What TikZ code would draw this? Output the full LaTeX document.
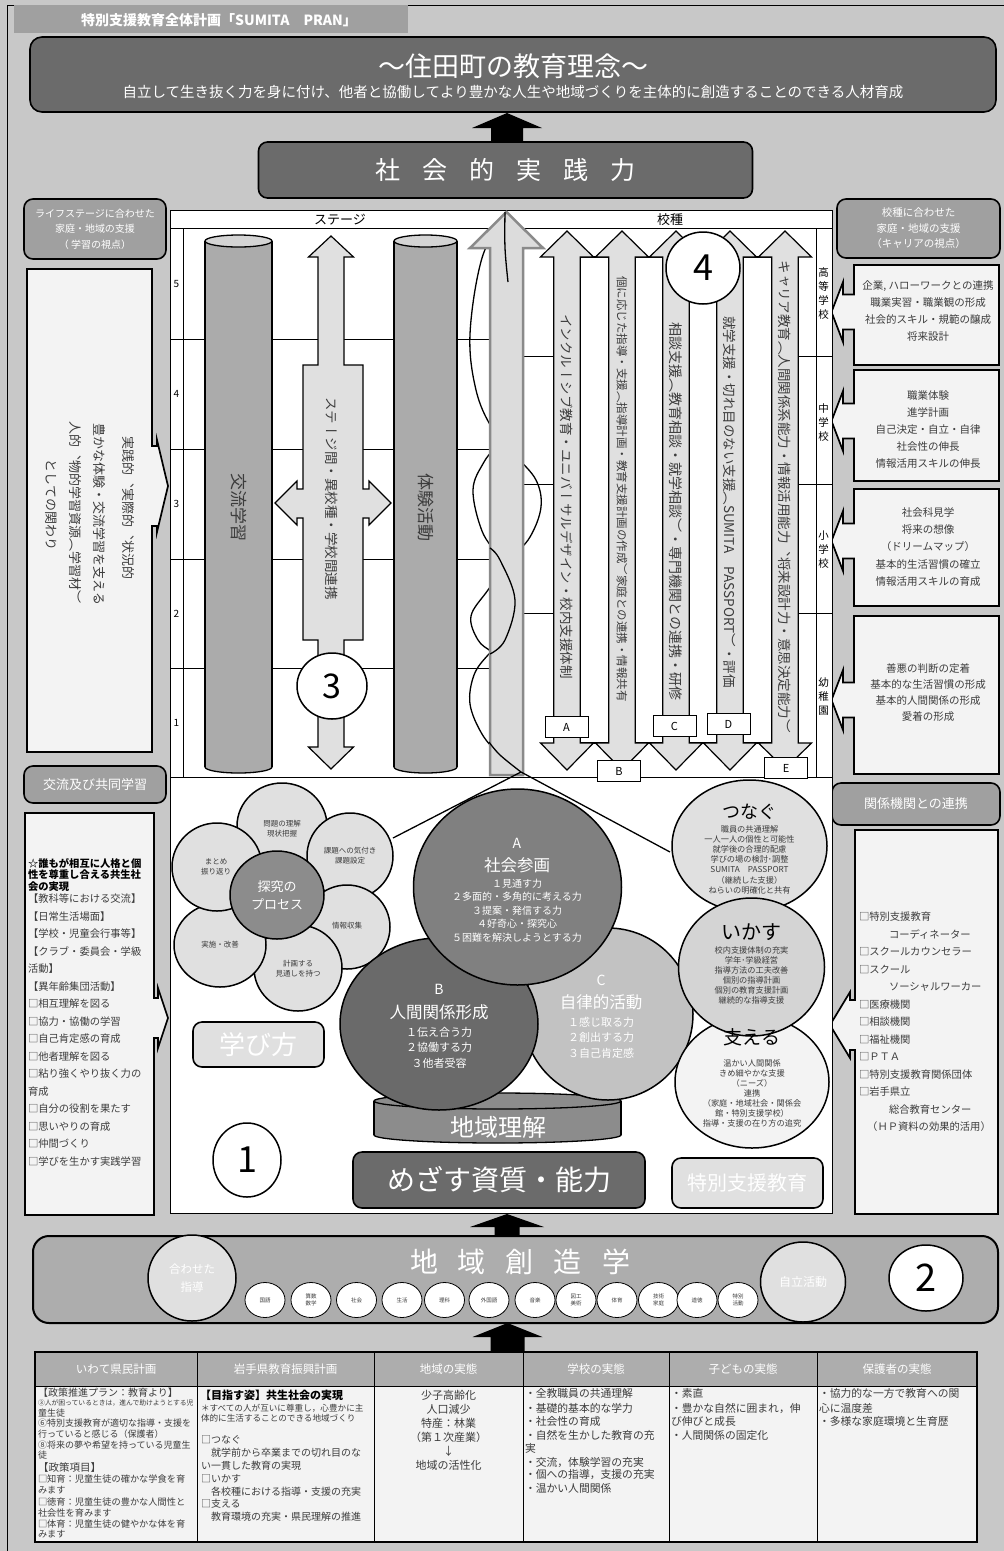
\documentclass[tikz,border=0pt]{standalone}
\usepackage{fontspec}
\setmainfont{Noto Sans CJK JP}
\newfontfamily\vjp[Vertical=RotatedGlyphs]{Noto Sans CJK JP}
\usetikzlibrary{shapes.geometric}
\definecolor{bgc}{HTML}{C8C8C8}
\definecolor{dk}{HTML}{6B6B6B}
\definecolor{md}{HTML}{A0A0A0}
\definecolor{lt}{HTML}{E0E0E0}
\definecolor{pale}{HTML}{F3F3F3}
\definecolor{txt}{HTML}{3C3C3C}
\definecolor{cyl}{HTML}{ABABAB}
\definecolor{cyltop}{HTML}{D4D4D4}
\definecolor{arrg}{HTML}{DCDCDC}
\definecolor{arre}{HTML}{8A8A8A}
\definecolor{cA}{HTML}{808080}
\definecolor{cB}{HTML}{6A6A6A}
\definecolor{cC}{HTML}{C2C2C2}
\definecolor{hdr}{HTML}{ADADAD}
\definecolor{band}{HTML}{ADADAD}
\definecolor{chi}{HTML}{8C8C8C}
\newcommand\fsz[2]{\fontsize{#1}{#2}\selectfont}
\newcommand\blkup[6]{\fill[black] (#1,#2) -- (#1+#5,#3) -- (#1+#6,#3) -- (#1+#6,#4) -- (#1-#6,#4) -- (#1-#6,#3) -- (#1-#5,#3) -- cycle;}
\newcommand\callL[9]{\draw[callbox] (#1,#2) -- (#3,#2) -- (#3,#4) -- (#1,#4) -- (#1,#5+#8) -- (#6,#5+#8) -- (#6,#5+#9) -- (#7,#5) -- (#6,#5-#9) -- (#6,#5-#8) -- (#1,#5-#8) -- cycle;}
\newcommand\callR[9]{\draw[callbox] (#1,#2) -- (#3,#2) -- (#3,#5-#8) -- (#6,#5-#8) -- (#6,#5-#9) -- (#7,#5) -- (#6,#5+#9) -- (#6,#5+#8) -- (#3,#5+#8) -- (#3,#4) -- (#1,#4) -- cycle;}
\newcommand\dblar[2]{\draw[garrow] (#1,231) -- (#1+26.5,257) -- (#1+13.3,257) -- (#1+13.3,743) -- (#1+26.5,743) -- (#1,#2) -- (#1-26.5,743) -- (#1-13.3,743) -- (#1-13.3,257) -- (#1-26.5,257) -- cycle;}
\newcommand\cylinder[6]{%
 \draw[line width=1.3pt, fill=#6] ({(#1+#2)/2},#4) ellipse [x radius={(#2-#1)/2}, y radius=#5];
 \fill[#6] (#1,#3) rectangle (#2,#4);
 \draw[line width=1.3pt] (#1,#3) -- (#1,#4) (#2,#3) -- (#2,#4);}
\begin{document}
\begin{tikzpicture}[x=1pt,y=-1pt,
  every node/.style={inner sep=0pt,outer sep=0pt},
  rbox/.style={draw=black,line width=1.6pt,rounded corners=9pt},
  callbox/.style={draw=black,line width=1.7pt,fill=pale,line join=miter},
  garrow/.style={draw=black,line width=1.2pt,fill=lt},
  circ/.style={ellipse,draw=black,line width=1.5pt},
  vt/.style={rotate=-90,anchor=west,text=txt,font={\vjp\fsz{#1}{#1}}},
  gt/.style={text=txt,font={\fsz{#1}{#1}}},
  wt/.style={text=white,font={\fsz{#1}{#1}}},
  helix/.style={line width=1.3pt,black},
]
% ---------- background ----------
\fill[bgc] (0,0) rectangle (1004,1551);
\useasboundingbox (0,0) rectangle (1004,1551);
\draw[line width=1.4pt] (7.5,1551) -- (7.5,5.5) -- (1004,5.5);
\node[fill=md,minimum width=394,minimum height=28] (lab) at (211,19) {};
\node[text=white,font={\bfseries\fsz{14}{14}}] (labt) at (219,20) {特別支援教育全体計画「SUMITA\quad PRAN」};
% ---------- top ----------
\node[rbox,fill=dk,minimum width=966,minimum height=75,rounded corners=12pt] (ideal) at (513,74.5) {};
\node[wt=27] (idealt) at (513,66) {～住田町の教育理念～};
\node[wt=14.5] (ideals) at (513,92) {自立して生き抜く力を身に付け、他者と協働してより豊かな人生や地域づくりを主体的に創造することのできる人材育成};
\blkup{507}{113}{128}{143}{35}{16}
\node[rbox,fill=dk,minimum width=494,minimum height=56] (spr) at (505.5,170) {};
\node[wt=25] (sprt) at (505.5,170) {社\hspace{22pt}会\hspace{22pt}的\hspace{22pt}実\hspace{22pt}践\hspace{22pt}力};
% ---------- side headers ----------
\node[rbox,fill=md,minimum width=142,minimum height=60] (lhead) at (95,229) {};
\node[text=white,align=center,font={\fsz{10}{15.5}}] (lheadt) at (lhead) {ライフステージに合わせた\\家庭・地域の支援\\（ 学習の視点）};
\node[rbox,fill=md,minimum width=163,minimum height=59] (rhead) at (918.5,228.5) {};
\node[text=white,align=center,font={\fsz{10.5}{15.5}}] (rheadt) at (rhead) {校種に合わせた\\家庭・地域の支援\\（キャリアの視点）};
% left box 1
\callR{27}{269}{152}{752}{486}{157}{168}{40}{46}
\node[vt=13] (lv1) at (128,436) {実践的、実際的、状況的};
\node[vt=13] (lv2) at (99,423) {豊かな体験・交流学習を支える};
\node[vt=13] (lv3) at (75,421) {人的、物的学習資源（学習材）};
\node[vt=13] (lv4) at (51,459) {としての関わり};
% left box 2
\node[rbox,fill=md,minimum width=142,minimum height=37] (lhead2) at (95,784.5) {};
\node[wt=13] (lhead2t) at (lhead2) {交流及び共同学習};
\callR{25}{813}{154}{1215}{1018}{158}{168}{20}{30}
\foreach \yy/\tt [count=\i] in {863/{☆誰もが相互に人格と個},875/{性を尊重し合える共生社},887/{会の実現}}
  \node[anchor=west,text=black,font={\bfseries\fsz{10.3}{10.3}}] (lb\i) at (28,\yy) {\tt};
\foreach \yy/\tt [count=\i] in {899/{【教科等における交流】},916.5/{【日常生活場面】},934/{【学校・児童会行事等】},951.5/{【クラブ・委員会・学級},969/{活動】},986.5/{【異年齢集団活動】},1004/{□相互理解を図る},1021.5/{□協力・協働の学習},1039/{□自己肯定感の育成},1056.5/{□他者理解を図る},1074/{□粘り強くやり抜く力の},1091.5/{育成},1109/{□自分の役割を果たす},1126.5/{□思いやりの育成},1144/{□仲間づくり},1161.5/{□学びを生かす実践学習}}
  \node[anchor=west,gt=10.3] (lc\i) at (28,\yy) {\tt};
% right boxes
\callL{854}{265}{999}{365}{312}{843}{831.5}{17.5}{30}
\callL{854}{370}{999}{481}{421}{843}{831.5}{17.5}{30}
\callL{854}{489}{999}{606}{541}{843}{831.5}{17.5}{30}
\callL{854}{616}{999}{774}{700}{843}{831.5}{17.5}{30}
\node[text=txt,align=center,font={\fsz{10.5}{16.7}}] (rb1) at (928,311) {企業, ハローワークとの連携\\職業実習・職業観の形成\\社会的スキル・規範の醸成\\将来設計};
\node[text=txt,align=center,font={\fsz{10.5}{16.8}}] (rb2) at (928,429.5) {職業体験\\進学計画\\自己決定・自立・自律\\社会性の伸長\\情報活用スキルの伸長};
\node[text=txt,align=center,font={\fsz{10.5}{17.2}}] (rb3) at (928,547) {社会科見学\\将来の想像\\（ドリームマップ）\\基本的生活習慣の確立\\情報活用スキルの育成};
\node[text=txt,align=center,font={\fsz{10.5}{16.3}}] (rb4) at (928,692.5) {善悪の判断の定着\\基本的な生活習慣の形成\\基本的人間関係の形成\\愛着の形成};
\node[rbox,fill=md,minimum width=168,minimum height=42] (rhead2) at (916,804) {};
\node[wt=13] (rhead2t) at (rhead2) {関係機関との連携};
\callL{855}{830}{998}{1214}{1025}{850}{830}{25}{33}
\foreach \yy/\tt [count=\i] in {917/{□特別支援教育},934.5/{\hspace{30pt}コーディネーター},952/{□スクールカウンセラー},969.5/{□スクール},987/{\hspace{30pt}ソーシャルワーカー},1004.5/{□医療機関},1022/{□相談機関},1039.5/{□福祉機関},1057/{□ＰＴＡ},1074.5/{□特別支援教育関係団体},1092/{□岩手県立},1109.5/{\hspace{30pt}総合教育センター}}
  \node[anchor=west,gt=10.3] (rc\i) at (859,\yy) {\tt};
\node[gt=10.3] (rc13) at (929,1127) {（ＨＰ資料の効果的活用）};
% ---------- central panel ----------
\node[draw=black,line width=1pt,fill=white,minimum width=662,minimum height=1003] (panel) at (501,711.5) {};
\draw[line width=0.8pt] (170,228.5) -- (832,228.5) (170,777) -- (832,777) (183,228.5) -- (183,777) (816,228.5) -- (816,777);
\foreach \yy in {339,449,559,668} \draw[line width=0.8pt] (170,\yy) -- (490,\yy);
\foreach \yy in {356,484,613} \draw[line width=0.8pt] (523,\yy) -- (832,\yy);
\node[text=black,font={\fsz{13}{13}}] (hst) at (340,219.5) {ステージ};
\node[text=black,font={\fsz{13}{13}}] (hsc) at (670,219.5) {校種};
\foreach \yy/\nn in {284/5,394/4,504/3,614/2,723/1}
  \node[text=black,font={\fsz{10}{10}}] (num\nn) at (176.5,\yy) {\nn};
\foreach \yy/\tt [count=\i] in {294/{高\\等\\学\\校},423/{中\\学\\校},550/{小\\学\\校},697/{幼\\稚\\園}}
  \node[text=black,align=center,font={\fsz{10.5}{14}}] (sch\i) at (823.5,\yy) {\tt};
% cylinders
\cylinder{205}{272}{241}{767}{6}{cyl}
\node[circ,fill=cyltop,minimum width=67,minimum height=12,line width=1.3pt] (cy1t) at (238.5,241) {};
\node[vt=17] (cy1) at (238.5,473) {交流学習};
\cylinder{394}{457}{241}{767}{6}{cyl}
\node[circ,fill=cyltop,minimum width=63,minimum height=12,line width=1.3pt] (cy2t) at (425.5,241) {};
\node[vt=17] (cy2) at (425.5,473) {体験活動};
% stage arrow
\draw[garrow] (331,236) -- (353.5,257) -- (344,257) -- (344,365) -- (363,365) -- (363,489) -- (369,489) -- (369,481) -- (391,503) -- (369,525) -- (369,518) -- (363,518) -- (363,640) -- (344,640) -- (344,747) -- (353.5,747) -- (331,769) -- (308.5,747) -- (318,747) -- (318,640) -- (303,640) -- (303,518) -- (297,518) -- (297,525) -- (275,503) -- (297,481) -- (297,489) -- (303,489) -- (303,365) -- (318,365) -- (318,257) -- (308.5,257) -- cycle;
\node[vt=13.5] (stg) at (332,397) {ステージ間・異校種・学校間連携};
\node[circ,fill=white,minimum width=70,minimum height=66] (c3) at (332,686) {};
\node[text=black,font={\fsz{34}{34}}] (c3t) at (c3) {3};
% helix (behind the arrow)
\coordinate (htop) at (506,212);
\coordinate (hbot) at (521,772);
\draw[helix] plot[smooth,tension=0.6] coordinates {(506,212) (482,258) (470,334) (476,390) (492,428) (515,455) (536,480) (541,507) (530,537) (510,560) (488,590) (471,616) (478,640) (492,652) (510,665) (518,700) (515,740) (521,772)};
\draw[helix] plot[smooth,tension=0.6] coordinates {(506,212) (516,260) (520,330) (515,400) (502,437) (484,462) (473,490) (482,531) (500,560) (515,600) (505,640) (488,655) (474,675) (470,704) (482,734) (500,755) (521,772)};
% big arrow
\draw[draw=arre,line width=2.5pt,fill=arrg] (506.5,212) -- (543,248) -- (523,248) -- (523,775) -- (490,775) -- (490,248) -- (470,248) -- cycle;
% helix (in front of the arrow)
\draw[helix] plot[smooth,tension=0.6] coordinates {(505,212) (505,248) (508,282)};
\draw[helix] plot[smooth,tension=0.6] coordinates {(490,548) (500,560) (515,600) (505,640) (490,654)};
\draw[helix] plot[smooth,tension=0.6] coordinates {(489,742) (500,755) (521,772)};
% school-type arrows
\foreach \xa/\xb in {580.3/608.7,635.3/662.7,689.3/716.7,743.3/771.7}
  \draw[line width=1.2pt,fill=white] (\xa,257) rectangle (\xb,743);
\dblar{567}{770}
\dblar{622}{770}
\dblar{676}{770}
\dblar{730}{770}
\dblar{785}{769}
\node[vt=13.5] (arA) at (567,314) {インクルーシブ教育・ユニバーサルデザイン・校内支援体制};
\node[vt=11.5] (arB) at (622,276) {個に応じた指導・支援（指導計画・教育支援計画の作成）家庭との連携・情報共有};
\node[vt=14] (arC) at (676,322) {相談支援（教育相談・就学相談）・専門機関との連携・研修};
\node[vt=13.5] (arD) at (730,316) {就学支援・切れ目のない支援（SUMITA　PASSPORT）・評価};
\node[vt=13.5] (arE) at (785,260) {キャリア教育（人間関係系能力・情報活用能力、将来設計力・意思決定能力）};
\foreach \cx/\cy/\ll in {566.5/727/A,619/771/B,674.5/726/C,728.5/724/D,786/768/E}
  \node[draw=black,line width=1pt,fill=white,minimum width=43,minimum height=21,text=black,font={\fsz{11}{11}}] (lab\ll) at (\cx,\cy) {\ll};
\node[circ,fill=white,minimum width=74,minimum height=72] (c4) at (703,268) {};
\node[text=black,font={\fsz{36}{36}}] (c4t) at (c4) {4};
% ---------- lower panel ----------
\node[circ,fill=lt,minimum width=90,minimum height=86] (p1) at (282,826) {};
\node[circ,fill=lt,minimum width=86,minimum height=86] (p2) at (350,856) {};
\node[circ,fill=lt,minimum width=86,minimum height=84] (p3) at (347,927) {};
\node[circ,fill=lt,minimum width=88,minimum height=86] (p4) at (298,968) {};
\node[circ,fill=lt,minimum width=92,minimum height=84] (p5) at (220,945) {};
\node[circ,fill=lt,minimum width=90,minimum height=88] (p6) at (217,867) {};
\node[circ,fill=chi,minimum width=94,minimum height=88] (p0) at (277,895) {};
\node[text=txt,align=center,font={\fsz{7.5}{10}}] (p1t) at (282,829) {問題の理解\\現状把握};
\node[text=txt,align=center,font={\fsz{7.5}{10}}] (p2t) at (350,856) {課題への気付き\\課題設定};
\node[text=txt,align=center,font={\fsz{7.5}{10}}] (p3t) at (347,926) {情報収集};
\node[text=txt,align=center,font={\fsz{7.5}{10}}] (p4t) at (298,969) {計画する\\見通しを持つ};
\node[text=txt,align=center,font={\fsz{7.5}{10}}] (p5t) at (220,945) {実施・改善};
\node[text=txt,align=center,font={\fsz{7.5}{10}}] (p6t) at (216,867) {まとめ\\振り返り};
\node[text=white,align=center,font={\fsz{13}{18}}] (p0t) at (p0) {探究の\\プロセス};
\node[rbox,fill=lt,minimum width=131,minimum height=45] (manabi) at (258.5,1044.5) {};
\node[wt=26] (manabit) at (manabi) {学び方};
% region cylinder
\cylinder{374}{621}{1101}{1135}{8}{chi}
\node[circ,fill=chi,minimum width=247,minimum height=16,line width=1.3pt] (regt) at (497.5,1101) {};
% beams
\coordinate (beamL) at (393,838);
\coordinate (beamR) at (670,852);
\draw[helix] (hbot) -- (beamL);
\draw[helix] (hbot) -- (beamR);
% ABC
\node[circ,fill=cC,minimum width=170,minimum height=172] (cirC) at (608,1014) {};
\node[circ,fill=cB,minimum width=198,minimum height=172] (cirB) at (439,1024) {};
\node[circ,fill=cA,minimum width=208,minimum height=196] (cirA) at (517.5,887) {};
\node[wt=24] (regtxt) at (498,1127) {地域理解};
\node[wt=14] (tA1) at (517,843) {A};
\node[wt=16.5] (tA2) at (517,865) {社会参画};
\node[text=white,align=center,font={\fsz{10}{13.5}}] (tA3) at (517,910.5) {１見通す力\\２多面的・多角的に考える力\\３提案・発信する力\\４好奇心・探究心\\５困難を解決しようとする力};
\node[wt=14] (tB1) at (439,989) {B};
\node[wt=16.5] (tB2) at (439,1012) {人間関係形成};
\node[text=white,align=center,font={\fsz{11}{15.5}}] (tB3) at (439,1047.5) {１伝え合う力\\２協働する力\\３他者受容};
\node[wt=14] (tC1) at (601,980) {C};
\node[wt=16.5] (tC2) at (601,1002) {自律的活動};
\node[text=white,align=center,font={\fsz{11}{15.5}}] (tC3) at (601,1037.5) {１感じ取る力\\２創出する力\\３自己肯定感};
% right circles
\node[circ,fill=lt,minimum width=155,minimum height=132] (tsu) at (749.5,846) {};
\node[circ,fill=pale,minimum width=154,minimum height=132] (sas) at (752,1082) {};
\node[circ,fill=cyltop,minimum width=146,minimum height=138] (ika) at (751.5,967) {};
\node[text=black,font={\fsz{18}{18}}] (tsut) at (749.5,812) {つなぐ};
\node[text=txt,align=center,font={\fsz{8.2}{10.2}}] (tsub) at (749.5,859.5) {職員の共通理解\\一人一人の個性と可能性\\就学後の合理的配慮\\学びの場の検討･調整\\SUMITA　PASSPORT\\（継続した支援）\\ねらいの明確化と共有};
\node[text=black,font={\fsz{20}{20}}] (ikat) at (751.5,932) {いかす};
\node[text=txt,align=center,font={\fsz{8.2}{10}}] (ikab) at (751.5,975) {校内支援体制の充実\\学年･学級経営\\指導方法の工夫改善\\個別の指導計画\\個別の教育支援計画\\継続的な指導支援};
\node[text=black,font={\fsz{19}{19}}] (sast) at (752,1037) {支える};
\node[text=txt,align=center,font={\fsz{8.2}{10}}] (sasb) at (752,1093) {温かい人間関係\\きめ細やかな支援\\（ニーズ）\\連携\\（家庭・地域社会・関係会\\館・特別支援学校）\\指導・支援の在り方の追究};
\node[rbox,fill=lt,minimum width=151,minimum height=50] (tokub) at (747.5,1183) {};
\node[wt=20] (tokubt) at (tokub) {特別支援教育};
\node[rbox,fill=dk,minimum width=292,minimum height=56] (mez) at (499,1180) {};
\node[wt=28] (mezt) at (mez) {めざす資質・能力};
\node[circ,fill=white,minimum width=68,minimum height=74] (c1) at (247,1160) {};
\node[text=black,font={\fsz{36}{36}}] (c1t) at (c1) {1};
% ---------- band ----------
\blkup{507}{1214}{1227}{1237}{37}{12.5}
\node[rbox,fill=band,line width=2pt,rounded corners=16pt,minimum width=965,minimum height=87] (bandn) at (515.5,1279.5) {};
\node[wt=28] (bandt) at (520,1262) {地\hspace{20pt}域\hspace{20pt}創\hspace{20pt}造\hspace{20pt}学};
\node[circ,fill=lt,minimum width=88,minimum height=86] (awa) at (192,1278) {};
\node[text=white,align=center,font={\fsz{11.5}{18}}] (awat) at (awa) {合わせた\\指導};
\foreach \xx/\tt [count=\i] in {265/{国語},311/{算数\\数学},356.5/{社会},402/{生活},444.5/{理科},489/{外国語},535/{音楽},576/{図工\\美術},617/{体育},658.5/{技術\\家庭},697/{道徳},738/{特別\\活動}}{
  \node[ellipse,draw=black,line width=0.8pt,fill=white,minimum width=40,minimum height=35] (sub\i) at (\xx,1300) {};
  \node[text=txt,align=center,font={\fsz{5.5}{7.5}}] (subt\i) at (sub\i) {\tt};}
\node[circ,fill=lt,minimum width=85,minimum height=80] (jir) at (803,1282) {};
\node[wt=12] (jirt) at (jir) {自立活動};
\node[circ,fill=white,minimum width=74,minimum height=66] (c2) at (926,1278) {};
\node[text=black,font={\fsz{38}{38}}] (c2t) at (c2) {2};
\blkup{507.5}{1323}{1337}{1352}{35}{17}
% ---------- table ----------
\fill[hdr] (35,1352) rectangle (977,1386);
\fill[pale] (35,1386) rectangle (977,1542);
\draw[line width=1.2pt] (35,1352) rectangle (977,1542);
\draw[line width=1pt] (35,1386) -- (977,1386);
\foreach \xx in {197,374,523,669,817} \draw[line width=1pt] (\xx,1352) -- (\xx,1542);
\foreach \xx/\tt [count=\i] in {116/{いわて県民計画},285.5/{岩手県教育振興計画},448.5/{地域の実態},596/{学校の実態},743/{子どもの実態},897/{保護者の実態}}
  \node[wt=11.5] (th\i) at (\xx,1369) {\tt};
\node[anchor=west,gt=10] (ta1) at (38,1393) {【政策推進プラン：教育より】};
\node[anchor=west,gt=6.8] (ta2) at (38,1403) {③人が困っているときは，進んで助けようとする児};
\foreach \yy/\tt [count=\i] in {1413.5/{童生徒},1423.5/{⑥特別支援教育が適切な指導・支援を},1434.5/{行っていると感じる（保護者）},1445.5/{⑧将来の夢や希望を持っている児童生},1455.5/{徒}}
  \node[anchor=west,gt=9] (tb\i) at (38,\yy) {\tt};
\node[anchor=west,gt=10.5] (ta3) at (38,1467) {【政策項目】};
\foreach \yy/\tt [count=\i] in {1479/{□知育：児童生徒の確かな学食を育},1490/{みます},1502/{□徳育：児童生徒の豊かな人間性と},1512.5/{社会性を育みます},1523.5/{□体育：児童生徒の健やかな体を育},1534.5/{みます}}
  \node[anchor=west,gt=9.2] (tc\i) at (38,\yy) {\tt};
\node[anchor=west,text=black,font={\bfseries\fsz{11}{11}}] (td1) at (200,1395) {【目指す姿】共生社会の実現};
\node[anchor=west,gt=8.6] (td2) at (201,1408) {＊すべての人が互いに尊重し，心豊かに主};
\node[anchor=west,gt=8.6] (td3) at (201,1418) {体的に生活することのできる地域づくり};
\foreach \yy/\tt [count=\i] in {1440/{□つなぐ},1453/{　就学前から卒業までの切れ目のな},1466/{い一貫した教育の実現},1479/{□いかす},1492/{　各校種における指導・支援の充実},1504/{□支える},1517/{　教育環境の充実・県民理解の推進}}
  \node[anchor=west,gt=10] (te\i) at (201,\yy) {\tt};
\node[text=txt,align=center,font={\fsz{11}{14}}] (tf) at (448.5,1430) {少子高齢化\\人口減少\\特産：林業\\（第１次産業）\\↓\\地域の活性化};
\foreach \yy/\tt [count=\i] in {1393/{・全教職員の共通理解},1408/{・基礎的基本的な学力},1421/{・社会性の育成},1435/{・自然を生かした教育の充},1448/{実},1462/{・交流，体験学習の充実},1475/{・個への指導，支援の充実},1488/{・温かい人間関係}}
  \node[anchor=west,gt=10.8] (tg\i) at (525,\yy) {\tt};
\foreach \yy/\tt [count=\i] in {1393/{・素直},1408/{・豊かな自然に囲まれ，伸},1421/{び伸びと成長},1435/{・人間関係の固定化}}
  \node[anchor=west,gt=10.8] (tk\i) at (671,\yy) {\tt};
\foreach \yy/\tt [count=\i] in {1393/{・協力的な一方で教育への関},1408/{心に温度差},1421/{・多様な家庭環境と生育歴}}
  \node[anchor=west,gt=10.8] (ti\i) at (819,\yy) {\tt};
\end{tikzpicture}
\end{document}
